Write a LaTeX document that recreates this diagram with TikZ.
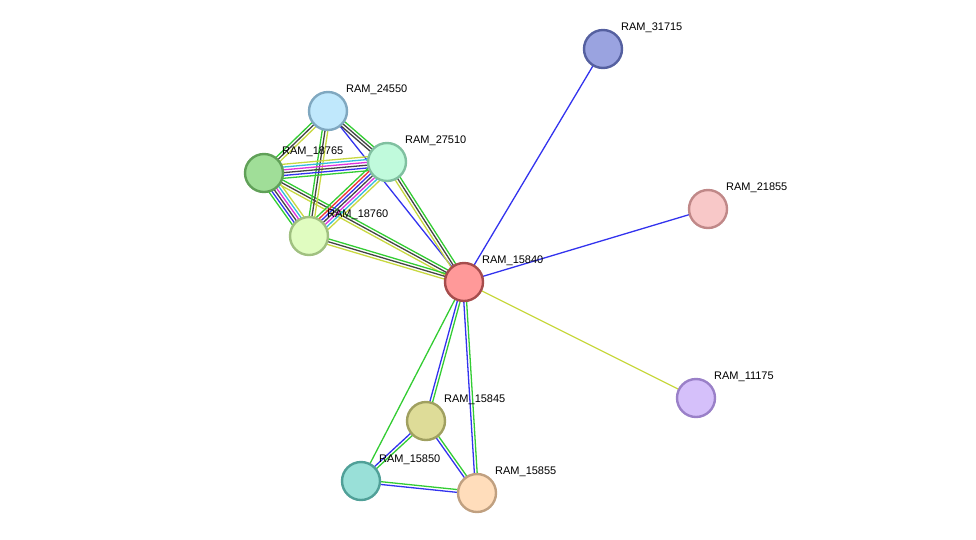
\documentclass[tikz,border=0pt]{standalone}
\usepackage{fontspec}
\setmainfont{Liberation Sans}
\usetikzlibrary{calc,backgrounds}
\definecolor{sblue}{HTML}{3333EE}
\definecolor{sgreen}{HTML}{33CC33}
\definecolor{syellow}{HTML}{C8D840}
\definecolor{sblack}{HTML}{444444}
\definecolor{smag}{HTML}{DD33DD}
\definecolor{scyan}{HTML}{33BBDD}
\definecolor{sred}{HTML}{EE3333}
\tikzset{prot/.style={circle, minimum size=38pt, inner sep=0, line width=2.4pt},
	lbl/.style={font=\fontsize{11}{13}\selectfont, inner sep=1pt, anchor=south west}}
% parallel coloured lines between two nodes
\newcommand{\sedge}[4]{%
	\foreach \c [count=\i] in {#4}{
		\pgfmathsetmacro\off{(\i-(#3+1)/2)*2.8}
		\draw[\c, line width=1.3pt] ($(#1)!\off pt!90:(#2)$) -- ($(#2)!\off pt!-90:(#1)$);
	}}
\begin{document}
\begin{tikzpicture}[x=1pt,y=-1pt]
\useasboundingbox (0,0) rectangle (976,539);
\node[prot, draw=red!50!black!70, fill={rgb,255:red,255;green,153;blue,153}] (n15840) at (464,282) {};
\node[prot, draw={rgb,255:red,85;green,96;blue,160}, fill={rgb,255:red,154;green,163;blue,224}] (n31715) at (603,49) {};
\node[prot, draw={rgb,255:red,192;green,136;blue,136}, fill={rgb,255:red,248;green,200;blue,200}] (n21855) at (708,209) {};
\node[prot, draw={rgb,255:red,154;green,128;blue,200}, fill={rgb,255:red,213;green,192;blue,250}] (n11175) at (696,398) {};
\node[prot, draw={rgb,255:red,160;green,160;blue,96}, fill={rgb,255:red,222;green,220;blue,152}] (n15845) at (426,421) {};
\node[prot, draw={rgb,255:red,80;green,160;blue,152}, fill={rgb,255:red,153;green,224;blue,216}] (n15850) at (361,481) {};
\node[prot, draw={rgb,255:red,192;green,160;blue,128}, fill={rgb,255:red,255;green,221;blue,187}] (n15855) at (477,493) {};
\node[prot, draw={rgb,255:red,128;green,168;blue,192}, fill={rgb,255:red,192;green,232;blue,252}] (n24550) at (328,111) {};
\node[prot, draw={rgb,255:red,128;green,192;blue,160}, fill={rgb,255:red,192;green,250;blue,220}] (n27510) at (387,162) {};
\node[prot, draw={rgb,255:red,96;green,160;blue,88}, fill={rgb,255:red,160;green,222;blue,152}] (n18765) at (264,173) {};
\node[prot, draw={rgb,255:red,160;green,192;blue,128}, fill={rgb,255:red,224;green,252;blue,192}] (n18760) at (309,236) {};
% labels
\foreach \n in {15840,31715,21855,11175,15845,15850,15855,24550,27510,18765,18760}
	\node[lbl] at ($(n\n)+(17,-15)$) {RAM\_\n};
\begin{pgfonlayer}{background}
\sedge{n15840}{n31715}{1}{sblue}
\sedge{n15840}{n21855}{1}{sblue}
\sedge{n15840}{n11175}{1}{syellow}
\sedge{n15840}{n15845}{2}{sblue,sgreen}
\sedge{n15840}{n15855}{2}{sblue,sgreen}
\sedge{n15840}{n15850}{1}{sgreen}
\sedge{n15845}{n15850}{2}{sblue,sgreen}
\sedge{n15845}{n15855}{2}{sblue,sgreen}
\sedge{n15850}{n15855}{2}{sblue,sgreen}
\sedge{n15840}{n24550}{1}{sblue}
\sedge{n15840}{n27510}{3}{sgreen,sblack,syellow}
\sedge{n15840}{n18765}{3}{sgreen,sblack,syellow}
\sedge{n15840}{n18760}{3}{sgreen,sblack,syellow}
\sedge{n24550}{n27510}{3}{sblack,sblack,sgreen}
\sedge{n24550}{n18765}{3}{sgreen,sblack,syellow}
\sedge{n24550}{n18760}{3}{sgreen,sblack,syellow}
\sedge{n18765}{n27510}{6}{sgreen,sblue,sblack,smag,scyan,syellow}
\sedge{n18765}{n18760}{6}{sgreen,sblue,sblack,smag,scyan,syellow}
\sedge{n27510}{n18760}{7}{sgreen,sred,sblue,sblack,smag,scyan,syellow}
\end{pgfonlayer}
\end{tikzpicture}
\end{document}
